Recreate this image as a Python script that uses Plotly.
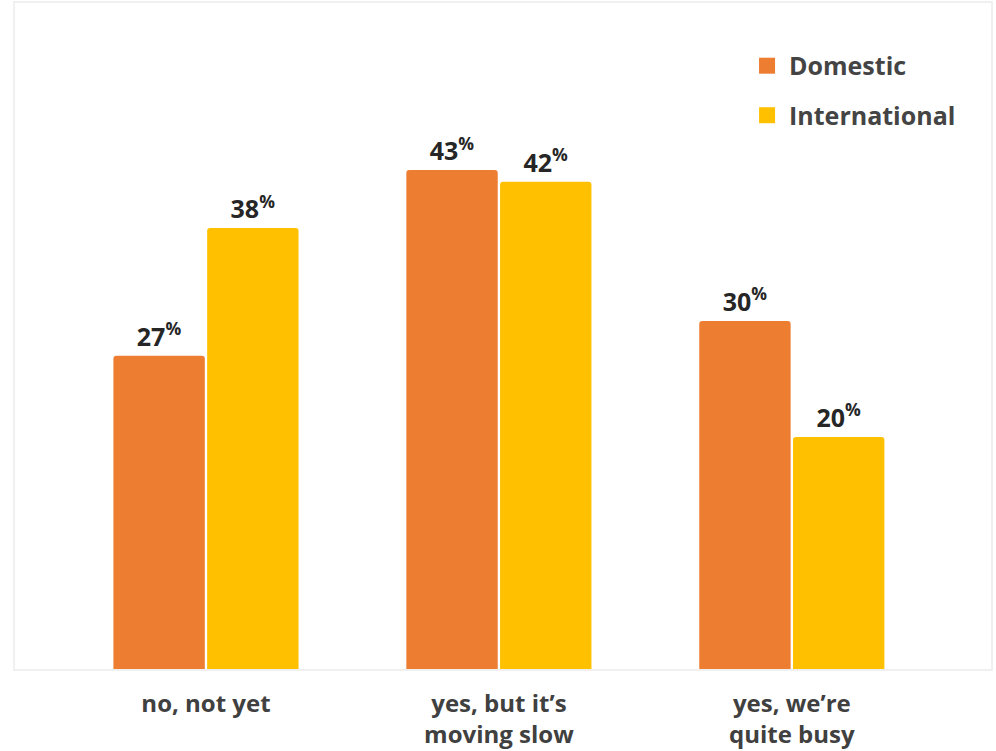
import plotly.graph_objects as go

categories = ["no, not yet", "yes, but it’s<br>moving slow", "yes, we’re<br>quite busy"]
domestic = [27, 43, 30]
international = [38, 42, 20]

ORANGE = "#ED7D31"
YELLOW = "#FFC000"
FONT = "Open Sans"

def pct_labels(vals):
    return [f"<b>{v}<sup>%</sup></b>" for v in vals]

fig = go.Figure()
for name, vals, color, grp in [("Domestic", domestic, ORANGE, "d"),
                               ("International", international, YELLOW, "i")]:
    fig.add_trace(go.Bar(
        x=categories, y=vals, name=name,
        marker=dict(color=color, line=dict(width=0)),
        text=pct_labels(vals), textposition="outside",
        textfont=dict(family=FONT, size=25, color="#262626"),
        cliponaxis=False, showlegend=False,
    ))
    # larger square swatches for the legend
    fig.add_trace(go.Scatter(
        x=[None], y=[None], mode="markers", name=name, legendgroup=grp,
        marker=dict(symbol="square", size=16, color=color),
    ))

fig.update_layout(
    width=996, height=751,
    margin=dict(l=15, r=5, t=3, b=82, autoexpand=False),
    paper_bgcolor="white", plot_bgcolor="white",
    barmode="group", bargap=0.36, bargroupgap=0.025,
    barcornerradius=3,
    font=dict(family=FONT, color="#404040"),
    legend=dict(
        x=0.748, y=0.94, xanchor="left", yanchor="top",
        font=dict(family=FONT, size=25, color="#444444", weight="bold"),
        tracegroupgap=14, itemwidth=34, bgcolor="rgba(0,0,0,0)",
    ),
    xaxis=dict(
        range=[-0.652, 2.68], automargin=False,
        showline=True, mirror=True, linecolor="#f0f0f0", linewidth=2,
        showgrid=False, ticks="outside", ticklen=12, tickcolor="white",
        tickfont=dict(family=FONT, size=24, color="#404040", weight="bold"),
    ),
    yaxis=dict(
        range=[0, 57.4], automargin=False,
        showline=True, mirror=True, linecolor="#f0f0f0", linewidth=2,
        showgrid=False, zeroline=False, showticklabels=False, ticks="",
    ),
)

fig.write_html("out.html")
